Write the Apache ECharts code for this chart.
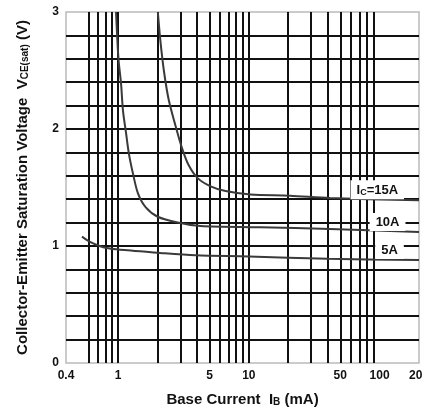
<!DOCTYPE html>
<html>
<head>
<meta charset="utf-8">
<script src="https://cdn.jsdelivr.net/npm/echarts@6/dist/echarts.min.js"></script>
<style>
html,body{margin:0;padding:0;background:#fff;}
#chart{width:422px;height:411px;}
</style>
</head>
<body>
<div id="chart"></div>
<script>
// Base current (mA) and saturation voltage (V) for each collector current
const ib15 = [2.015, 2.105, 2.24, 2.44, 2.81, 3.12, 3.47, 4.06, 5.1, 6.63, 10.3, 20.6, 41.7, 200];
const vce15 = [3.0, 2.76, 2.50, 2.25, 1.99, 1.82, 1.69, 1.58, 1.51, 1.47, 1.44, 1.43, 1.41, 1.39];
const ib10 = [0.965, 0.983, 1.009, 1.054, 1.09, 1.15, 1.21, 1.30, 1.42, 1.63, 2.01, 2.86, 4.27, 12.2, 41.7, 200];
const vce10 = [3.0, 2.81, 2.59, 2.39, 2.16, 1.97, 1.79, 1.62, 1.45, 1.33, 1.25, 1.20, 1.17, 1.16, 1.145, 1.12];
const ib5 = [0.53, 0.6, 0.77, 1.0, 1.3, 2.1, 3.9, 10, 40, 200];
const vce5 = [1.08, 1.04, 0.99, 0.97, 0.96, 0.94, 0.92, 0.91, 0.89, 0.88];

// Axis ticks / grid
const xGridValues = [0.5, 0.6, 0.7, 0.8, 0.9, 1, 2, 3, 4, 5, 6, 7, 8, 9, 10, 20, 30, 40, 50, 60, 70, 80, 90, 100];
const xTickLabels = [0.4, 1, 5, 10, 50, 100, 200];
const yLabelValues = [0, 1, 2, 3];

// Curve labels (anchor in data units)
const curveLabelNames = ['15A', '10A', '5A'];
const curveLabelAnchors = [[96, 1.48], [115, 1.205], [119, 0.966]];

const FONT = '"Liberation Sans", Arial, sans-serif';
const chart = echarts.init(document.getElementById('chart'));

function pairs(xs, ys) { return xs.map((x, i) => [x, ys[i]]); }

function labelPoint(i, text) {
  return {
    symbol: 'circle',
    symbolSize: 1,
    silent: true,
    itemStyle: { color: 'rgba(0,0,0,0)' },
    label: {
      show: true,
      position: 'inside',
      formatter: text,
      color: '#111',
      backgroundColor: '#fff',
      padding: [3, 6, 2, 6],
      rich: {
        n: { fontFamily: FONT, fontSize: 13, fontWeight: 'bold', color: '#111' },
        sub: { fontSize: 9, fontWeight: 'bold', padding: [5, 0, 0, 0], color: '#111', fontFamily: FONT }
      }
    },
    data: [{ coord: curveLabelAnchors[i], name: curveLabelNames[i] }]
  };
}

const lineStyle = { color: '#3a3a3a', width: 2 };
const titleRich = {
  n: { fontFamily: FONT, fontSize: 15, fontWeight: 'bold', color: '#111' },
  sub: { fontFamily: FONT, fontSize: 10, fontWeight: 'bold', color: '#111', padding: [5, 0, 0, 0] }
};

const option = {
  animation: false,
  backgroundColor: '#fff',
  grid: { left: 66, right: 3, top: 12, bottom: 48, show: true, borderColor: '#bbb', borderWidth: 1.5, outerBoundsMode: 'none', containLabel: false },
  xAxis: {
    type: 'log', logBase: 10, min: 0.4, max: 200,
    axisLine: { show: false },
    axisTick: { show: false, customValues: xGridValues },
    splitLine: { show: true, showMinLine: false, showMaxLine: false, lineStyle: { color: '#111', width: 2 } },
    axisLabel: {
      customValues: xTickLabels,
      formatter: v => String(+(+v).toPrecision(6)),
      fontFamily: FONT, fontSize: 12, fontWeight: 'bold', color: '#111', margin: 7
    },
    name: '{n|Base Current  I}{sub|B}{n| (mA)}',
    nameLocation: 'middle', nameGap: 29,
    nameTextStyle: { rich: titleRich }
  },
  yAxis: {
    type: 'value', min: 0, max: 3, interval: 0.2,
    axisLine: { show: false },
    axisTick: { show: false },
    splitLine: { show: true, showMinLine: false, showMaxLine: false, lineStyle: { color: '#111', width: 2 } },
    axisLabel: {
      formatter: v => {
        const r = Math.round(v);
        return (Math.abs(v - r) < 1e-6 && yLabelValues.indexOf(r) >= 0) ? String(r) : '';
      },
      fontFamily: FONT, fontSize: 12, fontWeight: 'bold', color: '#111', margin: 7
    },
    name: '{n|Collector-Emitter Saturation Voltage  V}{sub|CE(sat)}{n| (V)}',
    nameLocation: 'middle', nameGap: 36, nameRotate: 90,
    nameTextStyle: { rich: titleRich }
  },
  series: [
    { type: 'line', name: curveLabelNames[0], data: pairs(ib15, vce15), showSymbol: false, symbol: 'none', smooth: 0.3, lineStyle, z: 3,
      markPoint: labelPoint(0, '{n|I}{sub|C}{n|=15A}') },
    { type: 'line', name: curveLabelNames[1], data: pairs(ib10, vce10), showSymbol: false, symbol: 'none', smooth: 0.3, lineStyle, z: 3,
      markPoint: labelPoint(1, '{n|10A}') },
    { type: 'line', name: curveLabelNames[2], data: pairs(ib5, vce5), showSymbol: false, symbol: 'none', smooth: 0.3, lineStyle, z: 3,
      markPoint: labelPoint(2, '{n|5A}') }
  ]
};
chart.setOption(option);
</script>
</body>
</html>
